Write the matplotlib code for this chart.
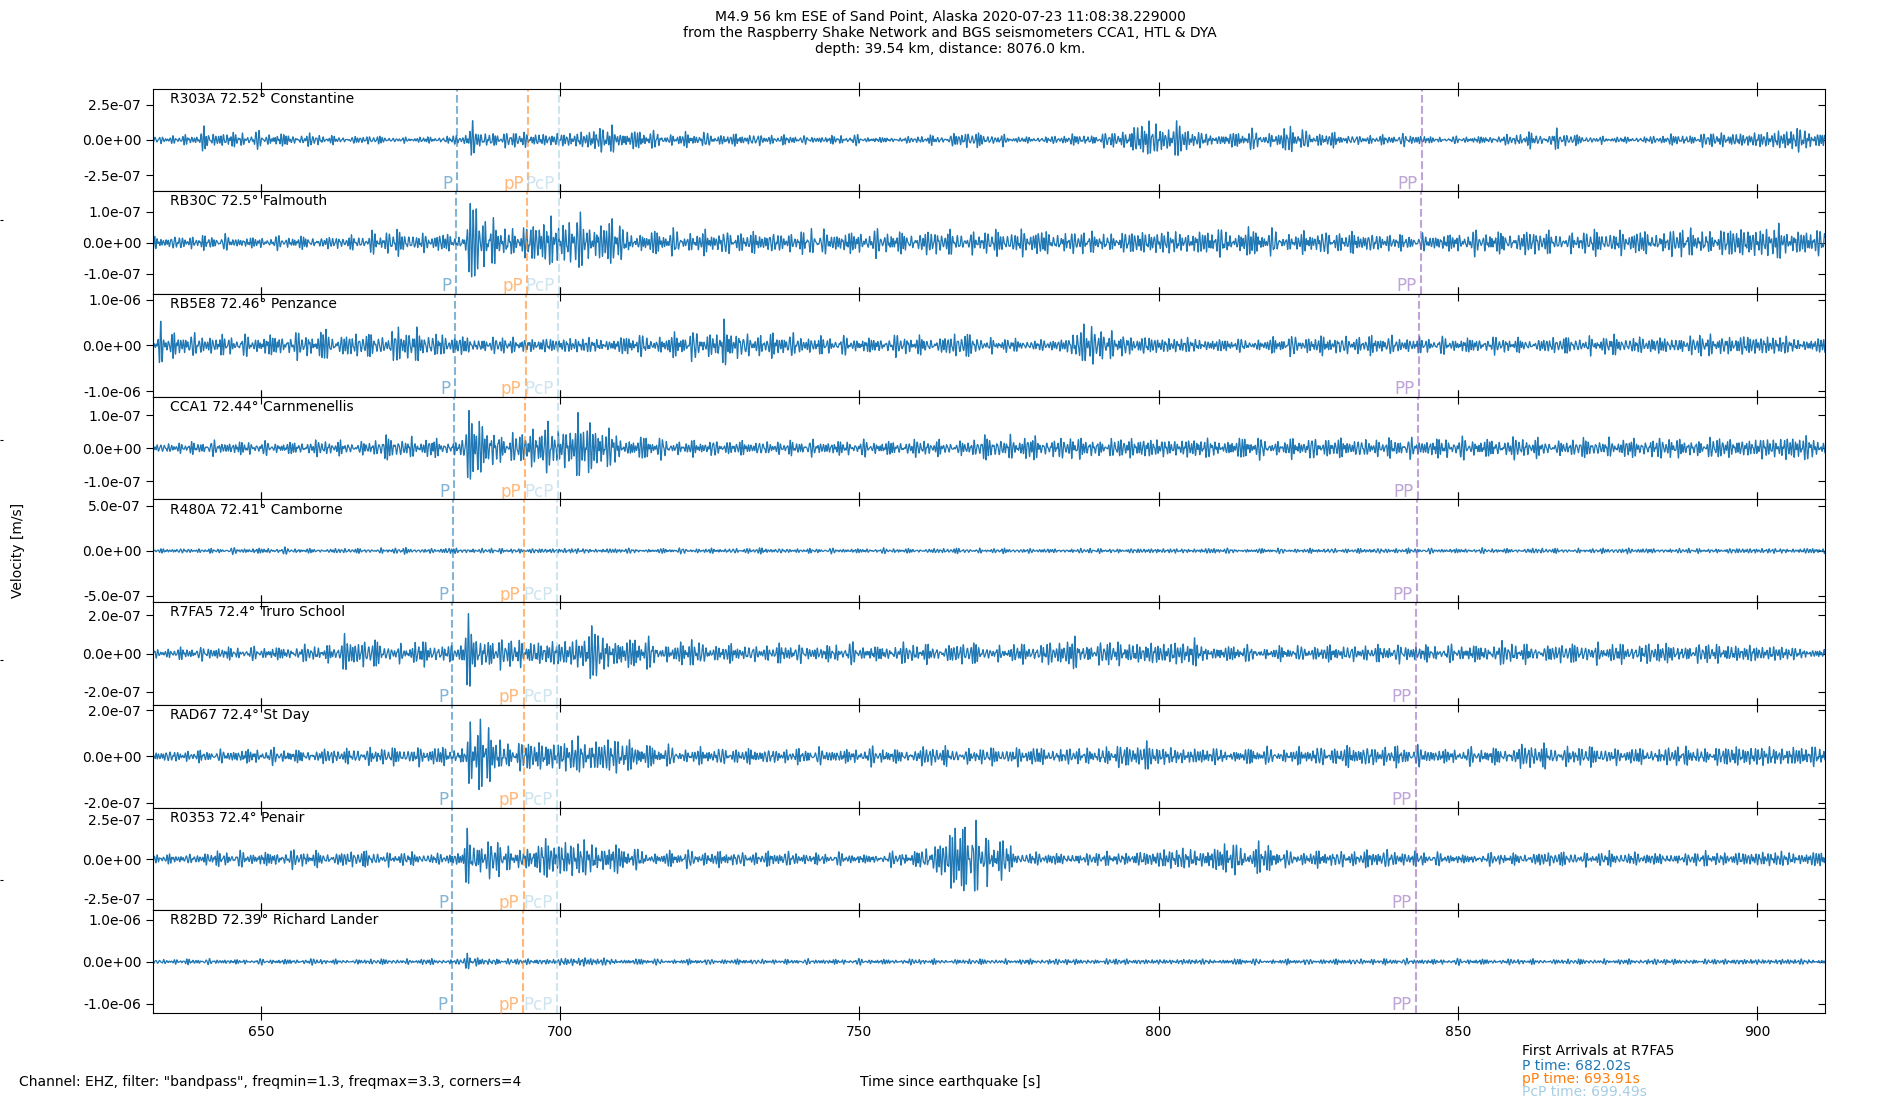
import numpy as np
import matplotlib
matplotlib.use("Agg")
import matplotlib.pyplot as plt
import matplotlib.lines as mlines
import matplotlib.transforms as mtransforms
from matplotlib.ticker import FormatStrFormatter, FixedLocator

# ---------------- data ----------------
stations = ["R303A", "RB30C", "RB5E8", "CCA1", "R480A", "R7FA5", "RAD67", "R0353", "R82BD"]
distances = [72.52, 72.5, 72.46, 72.44, 72.41, 72.4, 72.4, 72.4, 72.39]
places = ["Constantine", "Falmouth", "Penzance", "Carnmenellis", "Camborne",
          "Truro School", "St Day", "Penair", "Richard Lander"]

# y-axis half ranges (m/s) and tick values
full_scale = [3.65e-7, 1.65e-7, 1.12e-6, 1.56e-7, 5.7e-7, 2.68e-7, 2.22e-7, 3.25e-7, 1.22e-6]
ytick_val = [2.5e-7, 1.0e-7, 1.0e-6, 1.0e-7, 5.0e-7, 2.0e-7, 2.0e-7, 2.5e-7, 1.0e-6]

# phase arrival times (s since earthquake)
t_P = [682.75, 682.63, 682.39, 682.26, 682.08, 682.02, 682.02, 682.02, 681.96]
t_pP = [694.64, 694.52, 694.28, 694.15, 693.97, 693.91, 693.91, 693.91, 693.85]
t_PcP = [699.89, 699.82, 699.69, 699.62, 699.52, 699.49, 699.49, 699.49, 699.46]
t_PP = [844.03, 843.86, 843.52, 843.34, 843.09, 843.0, 843.0, 843.0, 842.91]

# amplitude envelope in 5 s windows starting at 630 s (fraction of full scale)
env_start = 630.0
env_step = 5.0
env_R303A = [0.065, 0.08, 0.15, 0.13, 0.12, 0.10, 0.07, 0.07, 0.05, 0.05,
             0.08, 0.16, 0.13, 0.12, 0.14, 0.20, 0.16, 0.13, 0.12, 0.10,
             0.10, 0.08, 0.065, 0.08, 0.05, 0.05, 0.08, 0.13, 0.10, 0.05,
             0.065, 0.10, 0.13, 0.30, 0.22, 0.13, 0.13, 0.16, 0.16, 0.13,
             0.08, 0.08, 0.10, 0.05, 0.065, 0.08, 0.13, 0.10, 0.065, 0.05,
             0.065, 0.10, 0.12, 0.13, 0.16, 0.20, 0.20]
env_RB30C = [0.10, 0.12, 0.12, 0.10, 0.10, 0.12, 0.10, 0.13, 0.20, 0.16,
             0.15, 0.39, 0.29, 0.36, 0.39, 0.32, 0.23, 0.20, 0.20, 0.20,
             0.18, 0.18, 0.18, 0.20, 0.20, 0.20, 0.20, 0.20, 0.20, 0.23,
             0.20, 0.18, 0.18, 0.20, 0.21, 0.20, 0.23, 0.20, 0.18, 0.20,
             0.18, 0.16, 0.13, 0.16, 0.18, 0.20, 0.20, 0.18, 0.20, 0.21,
             0.20, 0.23, 0.23, 0.26, 0.26, 0.20, 0.20]
env_RB5E8 = [0.20, 0.20, 0.18, 0.16, 0.20, 0.20, 0.20, 0.20, 0.23, 0.26,
             0.16, 0.14, 0.13, 0.13, 0.13, 0.13, 0.16, 0.20, 0.23, 0.29,
             0.20, 0.20, 0.16, 0.14, 0.14, 0.16, 0.16, 0.20, 0.13, 0.10,
             0.10, 0.32, 0.23, 0.16, 0.13, 0.13, 0.10, 0.13, 0.16, 0.16,
             0.16, 0.16, 0.14, 0.13, 0.14, 0.13, 0.12, 0.14, 0.16, 0.16,
             0.14, 0.16, 0.18, 0.18, 0.16, 0.13, 0.13]
env_CCA1 = [0.08, 0.10, 0.12, 0.12, 0.10, 0.13, 0.12, 0.13, 0.20, 0.16,
            0.14, 0.39, 0.26, 0.36, 0.36, 0.32, 0.20, 0.16, 0.13, 0.13,
            0.12, 0.12, 0.13, 0.13, 0.12, 0.14, 0.13, 0.14, 0.20, 0.20,
            0.18, 0.18, 0.16, 0.18, 0.16, 0.16, 0.18, 0.16, 0.16, 0.18,
            0.16, 0.16, 0.16, 0.18, 0.16, 0.18, 0.16, 0.14, 0.16, 0.16,
            0.18, 0.16, 0.18, 0.16, 0.20, 0.20, 0.20]
env_R480A = [0.035, 0.04, 0.04, 0.05, 0.05, 0.04, 0.04, 0.04, 0.05, 0.04,
             0.05, 0.04, 0.045, 0.04, 0.045, 0.04, 0.04, 0.04, 0.045, 0.04,
             0.05, 0.04, 0.04, 0.04, 0.04, 0.04, 0.04, 0.045, 0.04, 0.04,
             0.035, 0.04, 0.04, 0.04, 0.04, 0.045, 0.04, 0.04, 0.04, 0.04,
             0.04, 0.045, 0.045, 0.04, 0.04, 0.04, 0.045, 0.04, 0.04, 0.05,
             0.04, 0.04, 0.04, 0.045, 0.045, 0.045, 0.045]
env_R7FA5 = [0.08, 0.10, 0.12, 0.10, 0.12, 0.13, 0.14, 0.23, 0.16, 0.20,
             0.15, 0.32, 0.23, 0.23, 0.26, 0.36, 0.26, 0.20, 0.16, 0.16,
             0.14, 0.16, 0.14, 0.16, 0.14, 0.16, 0.16, 0.18, 0.13, 0.16,
             0.20, 0.18, 0.20, 0.20, 0.20, 0.16, 0.13, 0.12, 0.12, 0.14,
             0.14, 0.14, 0.16, 0.13, 0.16, 0.18, 0.16, 0.16, 0.18, 0.16,
             0.18, 0.16, 0.16, 0.16, 0.13, 0.10, 0.10]
env_RAD67 = [0.10, 0.10, 0.10, 0.13, 0.12, 0.12, 0.12, 0.16, 0.14, 0.16,
             0.16, 0.45, 0.26, 0.26, 0.29, 0.26, 0.23, 0.16, 0.14, 0.14,
             0.13, 0.13, 0.13, 0.13, 0.14, 0.13, 0.16, 0.14, 0.14, 0.16,
             0.14, 0.13, 0.20, 0.16, 0.16, 0.13, 0.14, 0.13, 0.14, 0.16,
             0.18, 0.18, 0.16, 0.13, 0.13, 0.16, 0.20, 0.18, 0.16, 0.14,
             0.14, 0.16, 0.16, 0.18, 0.18, 0.16, 0.16]
env_R0353 = [0.08, 0.08, 0.13, 0.12, 0.13, 0.14, 0.13, 0.14, 0.12, 0.10,
             0.10, 0.32, 0.20, 0.29, 0.32, 0.29, 0.16, 0.13, 0.14, 0.13,
             0.12, 0.13, 0.10, 0.10, 0.08, 0.12, 0.32, 0.55, 0.40, 0.12,
             0.10, 0.10, 0.12, 0.13, 0.18, 0.20, 0.23, 0.20, 0.13, 0.14,
             0.14, 0.16, 0.13, 0.10, 0.08, 0.10, 0.12, 0.12, 0.12, 0.12,
             0.10, 0.10, 0.13, 0.12, 0.13, 0.13, 0.13]
env_R82BD = [0.04, 0.045, 0.045, 0.04, 0.045, 0.05, 0.04, 0.045, 0.045, 0.05,
             0.045, 0.07, 0.05, 0.05, 0.08, 0.06, 0.05, 0.045, 0.045, 0.045,
             0.045, 0.04, 0.045, 0.045, 0.045, 0.045, 0.045, 0.045, 0.045, 0.045,
             0.05, 0.045, 0.05, 0.045, 0.045, 0.045, 0.05, 0.045, 0.045, 0.045,
             0.05, 0.05, 0.05, 0.045, 0.05, 0.045, 0.045, 0.045, 0.045, 0.045,
             0.05, 0.045, 0.045, 0.05, 0.045, 0.045, 0.045]
envelopes = [env_R303A, env_RB30C, env_RB5E8, env_CCA1, env_R480A,
             env_R7FA5, env_RAD67, env_R0353, env_R82BD]

# prominent peaks (time s, amplitude as fraction of full scale)
peaks_R303A = [(640.5, 0.29), (685.4, 0.39), (708.7, 0.28), (798.4, 0.39), (803.0, 0.37), (822.0, 0.26), (866.5, 0.23)]
peaks_RB30C = [(668.6, 0.23), (685.0, 0.75), (686.0, 0.60), (698.5, 0.50), (703.4, 0.60), (708.7, 0.49), (742.0, 0.29), (815.0, 0.32), (903.6, 0.36)]
peaks_RB5E8 = [(633.3, 0.50), (660.9, 0.32), (673.0, 0.36), (727.4, 0.55), (787.5, 0.45)]
peaks_CCA1 = [(684.8, 0.72), (686.5, 0.50), (698.0, 0.52), (703.0, 0.70), (705.0, 0.45)]
peaks_R480A = []
peaks_R7FA5 = [(664.0, 0.39), (684.7, 0.76), (705.3, 0.52), (722.0, 0.26), (786.0, 0.32), (806.0, 0.32)]
peaks_RAD67 = [(685.0, 0.70), (686.7, 0.65), (703.0, 0.42), (708.0, 0.32), (711.6, 0.32), (798.0, 0.29)]
peaks_R0353 = [(684.5, 0.60), (697.6, 0.36), (766.0, 0.65), (769.5, 0.70), (811.0, 0.29), (816.7, 0.36)]
peaks_R82BD = [(684.5, 0.16)]
peaks = [peaks_R303A, peaks_RB30C, peaks_RB5E8, peaks_CCA1, peaks_R480A,
         peaks_R7FA5, peaks_RAD67, peaks_R0353, peaks_R82BD]

t_start, t_end = 632.0, 911.3
x_ticks = [650, 700, 750, 800, 850, 900]

title = ("M4.9 56 km ESE of Sand Point, Alaska 2020-07-23 11:08:38.229000\n"
         "from the Raspberry Shake Network and BGS seismometers CCA1, HTL & DYA\n"
         "depth: 39.54 km, distance: 8076.0 km.")
filter_text = 'Channel: EHZ, filter: "bandpass", freqmin=1.3, freqmax=3.3, corners=4'
first_arrivals_station = "R7FA5"
first_arrivals = [("P", 682.02), ("pP", 693.91), ("PcP", 699.49)]

# ---------------- styling ----------------
c_trace = "#1f77b4"
phase_style = {"P": ("#1f77b4", 0.55), "pP": ("#ff7f0e", 0.55),
               "PcP": ("#a6cee3", 0.55), "PP": ("#9467bd", 0.6)}
fa_colors = ["#1f77b4", "#ff7f0e", "#a6cee3"]

# ---------------- build traces ----------------
fs = 100.0
t = np.arange(t_start, t_end, 1.0 / fs)
# pass-band oscillation components used for the wiggle texture
band = [1.31, 1.43, 1.56, 1.67, 1.79, 1.88, 2.01, 2.12, 2.23, 2.37,
        2.49, 2.61, 2.74, 2.86, 2.99, 3.13, 3.27]
band_w = [0.6, 0.8, 0.9, 1.0, 1.0, 1.0, 1.0, 1.0, 1.0, 0.95,
          0.9, 0.85, 0.75, 0.65, 0.55, 0.45, 0.4]


def make_trace(i):
    env = np.asarray(envelopes[i])
    idx = np.clip(((t - env_start) // env_step).astype(int), 0, len(env) - 1)
    e = env[idx]
    k = 100
    ep = np.concatenate([np.full(k, e[0]), e, np.full(k, e[-1])])
    e = np.convolve(ep, np.ones(k) / k, mode="same")[k:-k]
    carrier = np.zeros_like(t)
    for j, (f, w) in enumerate(zip(band, band_w)):
        ph = 2 * np.pi * (((j + 1) * 0.6180339 * (i + 1.37) + 0.31 * j * j) % 1.0)
        carrier += w * np.sin(2 * np.pi * f * t + ph)
    carrier /= np.sqrt(np.sum(np.square(band_w)) / 2.0)
    noise = e * carrier / 2.1
    mask = np.zeros_like(t)
    spikes = np.zeros_like(t)
    for (t0, a) in peaks[i]:
        g = np.exp(-((t - t0) / 0.45) ** 2)
        mask = np.maximum(mask, g)
        spikes += a * g * np.cos(2 * np.pi * 2.1 * (t - t0))
    y = noise * (1.0 - 0.85 * mask) + spikes
    return y * full_scale[i]


# ---------------- figure ----------------
fig = plt.figure(figsize=(19, 11), dpi=100)

# full-figure frameless axes (source of the small marks on the left edge)
bg = fig.add_axes([0, 0, 1, 1], frameon=False)
bg.set_xticks([])
bg.set_yticks([0.2, 0.4, 0.6, 0.8])
bg.tick_params(axis="y", direction="in", length=2, labelleft=False)
bg.set_ylim(0, 1)

n = len(stations)
gs = fig.add_gridspec(n, 1, left=0.0805, right=0.9605, bottom=0.079, top=0.9195, hspace=0)
axes = []
for i in range(n):
    ax = fig.add_subplot(gs[i, 0], sharex=axes[0] if axes else None)
    axes.append(ax)
    ax.plot(t, make_trace(i), color=c_trace, lw=0.9)
    ax.set_ylim(-full_scale[i], full_scale[i])
    ax.yaxis.set_major_locator(FixedLocator([-ytick_val[i], 0.0, ytick_val[i]]))
    ax.yaxis.set_major_formatter(FormatStrFormatter("%.1e"))
    ax.tick_params(axis="y", direction="out", length=5, right=True, labelsize=10)
    ax.tick_params(axis="x", direction="inout", length=10, top=True,
                   labelbottom=(i == n - 1))
    ax.text(0.01, 0.97, f"{stations[i]} {distances[i]}\u00b0 {places[i]}",
            transform=ax.transAxes, ha="left", va="top", fontsize=10)
    trans = mtransforms.blended_transform_factory(ax.transData, ax.transAxes)
    for name, tt in (("P", t_P[i]), ("pP", t_pP[i]), ("PcP", t_PcP[i]), ("PP", t_PP[i])):
        col, al = phase_style[name]
        ax.axvline(tt, color=col, alpha=al, ls="--", lw=1.5)
        ax.annotate(name, xy=(tt, 0.0), xycoords=trans, xytext=(-3, -1),
                    textcoords="offset points", ha="right", va="bottom",
                    color=col, alpha=al, fontsize=12)
    for tk in ax.yaxis.get_major_ticks():
        tk.tick2line.set_marker(mlines.TICKLEFT)

axes[0].set_xlim(t_start, t_end)
axes[0].set_xticks(x_ticks)

fig.suptitle(title, y=0.991, fontsize=10, va="top")
fig.text(0.0095, 0.5, "Velocity [m/s]", rotation=90, ha="center", va="center", fontsize=10)
fig.text(0.5, 0.0165, "Time since earthquake [s]", ha="center", va="center", fontsize=10)
fig.text(0.01, 0.0165, filter_text, ha="left", va="center", fontsize=10)
fa_y = [0.0445, 0.031, 0.019, 0.0073]
fig.text(0.801, fa_y[0], f"First Arrivals at {first_arrivals_station}", ha="left",
         va="center", fontsize=10)
for j, (nm, val) in enumerate(first_arrivals):
    fig.text(0.801, fa_y[j + 1], f"{nm} time: {val:.2f}s", ha="left", va="center",
             fontsize=10, color=fa_colors[j])

fig.savefig("out.png", dpi=100)
